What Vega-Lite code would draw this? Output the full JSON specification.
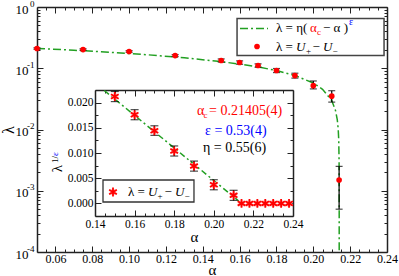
{
  "$schema": "https://vega.github.io/schema/vega-lite/v6.json",
  "width": 350,
  "height": 245,
  "autosize": "none",
  "padding": {"left": 37, "top": 7, "right": 12, "bottom": 24},
  "background": "white",
  "config": {
    "view": {"stroke": null},
    "font": "Liberation Serif",
    "text": {"font": "Liberation Serif"},
    "axis": {
      "labelFont": "Liberation Serif", "titleFont": "Liberation Serif",
      "labelColor": "black", "titleColor": "black",
      "domainColor": "#222", "tickColor": "#222",
      "domainWidth": 1.5, "tickWidth": 1, "grid": false, "titleFontWeight": "normal",
      "labelOverlap": false, "labelFlush": false, "labelBound": false
    }
  },
  "datasets": {
    "main": [
      {"a": 0.05, "lam": 0.21, "lo": 0.204, "hi": 0.216},
      {"a": 0.075, "lam": 0.202, "lo": 0.196, "hi": 0.208},
      {"a": 0.1, "lam": 0.188, "lo": 0.182, "hi": 0.194},
      {"a": 0.125, "lam": 0.161, "lo": 0.155, "hi": 0.167},
      {"a": 0.15, "lam": 0.134, "lo": 0.126, "hi": 0.142},
      {"a": 0.16, "lam": 0.124, "lo": 0.116, "hi": 0.132},
      {"a": 0.17, "lam": 0.111, "lo": 0.104, "hi": 0.118},
      {"a": 0.18, "lam": 0.092, "lo": 0.085, "hi": 0.099},
      {"a": 0.19, "lam": 0.076, "lo": 0.069, "hi": 0.083},
      {"a": 0.2, "lam": 0.052, "lo": 0.046, "hi": 0.062},
      {"a": 0.21, "lam": 0.035, "lo": 0.028, "hi": 0.043},
      {"a": 0.214, "lam": 0.0015, "lo": 0.0005, "hi": 0.0025}
    ],
    "fit": [
      {"a": 0.05, "lam": 0.211, "s": "fit"},
      {"a": 0.07, "lam": 0.197, "s": "fit"},
      {"a": 0.09, "lam": 0.182, "s": "fit"},
      {"a": 0.11, "lam": 0.166, "s": "fit"},
      {"a": 0.13, "lam": 0.148, "s": "fit"},
      {"a": 0.15, "lam": 0.128, "s": "fit"},
      {"a": 0.16, "lam": 0.117, "s": "fit"},
      {"a": 0.17, "lam": 0.105, "s": "fit"},
      {"a": 0.18, "lam": 0.0917, "s": "fit"},
      {"a": 0.19, "lam": 0.0763, "s": "fit"},
      {"a": 0.2, "lam": 0.0574, "s": "fit"},
      {"a": 0.205, "lam": 0.0454, "s": "fit"},
      {"a": 0.21, "lam": 0.0297, "s": "fit"},
      {"a": 0.212, "lam": 0.0207, "s": "fit"},
      {"a": 0.213, "lam": 0.0145, "s": "fit"},
      {"a": 0.2135, "lam": 0.0103, "s": "fit"},
      {"a": 0.2138, "lam": 0.0068, "s": "fit"},
      {"a": 0.214, "lam": 0.0029, "s": "fit"},
      {"a": 0.21404, "lam": 0.00123, "s": "fit"},
      {"a": 0.214049, "lam": 0.00036, "s": "fit"},
      {"a": 0.21405, "lam": 0.0001, "s": "fit"},
      {"a": 0.1602, "lam": 0.4457, "s": "leg"},
      {"a": 0.1754, "lam": 0.4457, "s": "leg"}
    ],
    "mbox": [{"a": 0.1586, "a2": 0.2384, "lam": 0.1614, "lam2": 0.649}],
    "mdot": [{"a": 0.16944, "lam": 0.2265}],
    "mtext": [
      {"a": 0.17975, "lam": 0.4457, "t": "λ = η(", "k": "n", "c": "k"},
      {"a": 0.19821, "lam": 0.4457, "t": "α", "k": "n", "c": "r"},
      {"a": 0.20201, "lam": 0.4457, "t": "c", "k": "sub", "c": "r"},
      {"a": 0.20527, "lam": 0.4457, "t": "− α )", "k": "n", "c": "k"},
      {"a": 0.21938, "lam": 0.4457, "t": "ε", "k": "sup", "c": "b"},
      {"a": 0.17975, "lam": 0.2265, "t": "λ =", "k": "n", "c": "k"},
      {"a": 0.19061, "lam": 0.2265, "t": "U", "k": "i", "c": "k"},
      {"a": 0.19604, "lam": 0.2265, "t": "+", "k": "sub", "c": "k"},
      {"a": 0.19957, "lam": 0.2265, "t": "−", "k": "n", "c": "k"},
      {"a": 0.20527, "lam": 0.2265, "t": "U", "k": "i", "c": "k"},
      {"a": 0.21042, "lam": 0.2265, "t": "−", "k": "sub", "c": "k"}
    ],
    "inset": [
      {"a": 0.15, "v": 0.0212, "lo": 0.0202, "hi": 0.0222},
      {"a": 0.16, "v": 0.0176, "lo": 0.0166, "hi": 0.0186},
      {"a": 0.17, "v": 0.0144, "lo": 0.0135, "hi": 0.0154},
      {"a": 0.18, "v": 0.0104, "lo": 0.0094, "hi": 0.0114},
      {"a": 0.19, "v": 0.0074, "lo": 0.0064, "hi": 0.0084},
      {"a": 0.2, "v": 0.0037, "lo": 0.0027, "hi": 0.0047},
      {"a": 0.21, "v": 0.0016, "lo": 0.0006, "hi": 0.0026},
      {"a": 0.214, "v": 0.0},
      {"a": 0.218, "v": 0.0},
      {"a": 0.222, "v": 0.0},
      {"a": 0.226, "v": 0.0},
      {"a": 0.23, "v": 0.0},
      {"a": 0.234, "v": 0.0},
      {"a": 0.238, "v": 0.0}
    ],
    "ifit": [{"a": 0.1447, "v": 0.0224}, {"a": 0.21405, "v": 0.0}],
    "ibox": [{"a": 0.14404, "a2": 0.18999, "v": 0.00028, "v2": 0.00464}],
    "istar": [{"a": 0.14909, "v": 0.00226}],
    "itext": [
      {"a": 0.19152, "v": 0.01833, "t": "α", "k": "n", "c": "r"},
      {"a": 0.1948, "v": 0.01833, "t": "c", "k": "sub", "c": "r"},
      {"a": 0.19758, "v": 0.01833, "t": "= 0.21405(4)", "k": "n", "c": "r"},
      {"a": 0.19556, "v": 0.01437, "t": "ε = 0.53(4)", "k": "n", "c": "b"},
      {"a": 0.19455, "v": 0.01099, "t": "η = 0.55(6)", "k": "n", "c": "k"},
      {"a": 0.15667, "v": 0.00226, "t": "λ =", "k": "l", "c": "k"},
      {"a": 0.16677, "v": 0.00226, "t": "U", "k": "i", "c": "k"},
      {"a": 0.17157, "v": 0.00226, "t": "+", "k": "sub", "c": "k"},
      {"a": 0.1751, "v": 0.00226, "t": "−", "k": "l", "c": "k"},
      {"a": 0.1804, "v": 0.00226, "t": "U", "k": "i", "c": "k"},
      {"a": 0.18521, "v": 0.00226, "t": "−", "k": "sub", "c": "k"},
      {"a": 0.12081, "v": 0.00692, "t": "λ", "k": "rot", "c": "k"},
      {"a": 0.11955, "v": 0.00871, "t": "1/", "k": "rotsup", "c": "k"},
      {"a": 0.11955, "v": 0.0098, "t": "ε", "k": "rotsup", "c": "b"}
    ]
  },
  "layer": [
    {
      "layer": [
        {
          "data": {"name": "fit"},
          "mark": {"type": "line", "color": "#22a022", "strokeWidth": 1.5, "strokeDash": [8, 3, 2, 3]},
          "encoding": {
            "x": {"field": "a", "type": "quantitative", "scale": {"domain": [0.05, 0.24], "nice": false},
              "axis": {"orient": "bottom", "title": "α", "titleFontSize": 15, "titlePadding": -2, "ticks": false, "domain": false,
                "values": [0.06, 0.1, 0.14, 0.18, 0.22], "format": ".2f",
                "labelOverlap": false, "labelFlush": false, "labelBound": false,
                "labelFontSize": 12, "labelPadding": 1}},
            "y": {"field": "lam", "type": "quantitative", "scale": {"type": "log", "domain": [0.0001, 1]},
              "axis": {"orient": "left", "title": "λ", "titleFontSize": 16, "titlePadding": -1, "ticks": false, "domain": false,
                "values": [0.0001, 0.001, 0.01, 0.1, 1], "labelExpr": "'10'",
                "labelOverlap": false, "labelFlush": false, "labelBound": false,
                "labelFontSize": 13, "labelPadding": 9, "labelOffset": 2}},
            "detail": {"field": "s"}
          }
        },
        {
          "data": {"name": "mbox"},
          "mark": {"type": "rect", "filled": false, "stroke": "#444", "strokeWidth": 1.5},
          "encoding": {
            "x": {"field": "a", "type": "quantitative"}, "x2": {"field": "a2"},
            "y": {"field": "lam", "type": "quantitative"}, "y2": {"field": "lam2"}
          }
        },
        {
          "data": {"name": "main"},
          "mark": {"type": "rule", "color": "black", "strokeWidth": 1.2},
          "encoding": {"x": {"field": "a", "type": "quantitative"}, "y": {"field": "lo", "type": "quantitative"}, "y2": {"field": "hi"}}
        },
        {
          "data": {"name": "main"},
          "mark": {"type": "tick", "orient": "horizontal", "color": "black", "size": 7, "thickness": 1.2},
          "encoding": {"x": {"field": "a", "type": "quantitative"}, "y": {"field": "lo", "type": "quantitative"}}
        },
        {
          "data": {"name": "main"},
          "mark": {"type": "tick", "orient": "horizontal", "color": "black", "size": 7, "thickness": 1.2},
          "encoding": {"x": {"field": "a", "type": "quantitative"}, "y": {"field": "hi", "type": "quantitative"}}
        },
        {
          "data": {"name": "main"},
          "mark": {"type": "circle", "color": "#ff0000", "size": 32, "opacity": 1},
          "encoding": {"x": {"field": "a", "type": "quantitative"}, "y": {"field": "lam", "type": "quantitative"}}
        },
        {
          "data": {"name": "mdot"},
          "mark": {"type": "circle", "color": "#ff0000", "size": 32, "opacity": 1},
          "encoding": {"x": {"field": "a", "type": "quantitative"}, "y": {"field": "lam", "type": "quantitative"}}
        },
        {
          "data": {"name": "mtext"},
          "transform": [{"filter": "datum.k == 'n'"}],
          "mark": {"type": "text", "align": "left", "baseline": "middle", "fontSize": 13},
          "encoding": {"x": {"field": "a", "type": "quantitative"}, "y": {"field": "lam", "type": "quantitative"}, "text": {"field": "t"},
            "color": {"field": "c", "type": "nominal", "scale": {"domain": ["k", "r", "b"], "range": ["black", "#ff0000", "#0000ff"]}, "legend": null}}
        },
        {
          "data": {"name": "mtext"},
          "transform": [{"filter": "datum.k == 'i'"}],
          "mark": {"type": "text", "align": "left", "baseline": "middle", "fontSize": 13, "fontStyle": "italic"},
          "encoding": {"x": {"field": "a", "type": "quantitative"}, "y": {"field": "lam", "type": "quantitative"}, "text": {"field": "t"},
            "color": {"field": "c", "type": "nominal", "scale": {"domain": ["k", "r", "b"], "range": ["black", "#ff0000", "#0000ff"]}, "legend": null}}
        },
        {
          "data": {"name": "mtext"},
          "transform": [{"filter": "datum.k == 'sub'"}],
          "mark": {"type": "text", "align": "left", "baseline": "middle", "fontSize": 9, "dy": 4},
          "encoding": {"x": {"field": "a", "type": "quantitative"}, "y": {"field": "lam", "type": "quantitative"}, "text": {"field": "t"},
            "color": {"field": "c", "type": "nominal", "scale": {"domain": ["k", "r", "b"], "range": ["black", "#ff0000", "#0000ff"]}, "legend": null}}
        },
        {
          "data": {"name": "mtext"},
          "transform": [{"filter": "datum.k == 'sup'"}],
          "mark": {"type": "text", "align": "left", "baseline": "middle", "fontSize": 10, "dy": -6},
          "encoding": {"x": {"field": "a", "type": "quantitative"}, "y": {"field": "lam", "type": "quantitative"}, "text": {"field": "t"},
            "color": {"field": "c", "type": "nominal", "scale": {"domain": ["k", "r", "b"], "range": ["black", "#ff0000", "#0000ff"]}, "legend": null}}
        }
      ]
    },
    {
      "data": {"name": "main"},
      "mark": {"type": "point", "opacity": 0},
      "encoding": {
        "x": {"field": "a", "type": "quantitative", "scale": {"domain": [0.05, 0.24], "nice": false},
          "axis": {"orient": "bottom", "title": null, "labels": false, "tickSize": -6,
            "values": [0.06, 0.08, 0.1, 0.12, 0.14, 0.16, 0.18, 0.2, 0.22, 0.24]}},
        "y": {"field": "lam", "type": "quantitative", "scale": {"type": "log", "domain": [0.0001, 1]},
          "axis": {"orient": "left", "title": null, "labels": false, "tickSize": -6,
            "values": [0.0001, 0.001, 0.01, 0.1, 1]}}
      }
    },
    {
      "data": {"name": "main"},
      "mark": {"type": "point", "opacity": 0},
      "encoding": {
        "x": {"field": "a", "type": "quantitative", "scale": {"domain": [0.05, 0.24], "nice": false},
          "axis": {"orient": "bottom", "title": null, "labels": false, "tickSize": -3, "domain": false,
            "values": [0.055,0.065,0.07,0.075,0.085,0.09,0.095,0.105,0.11,0.115,0.125,0.13,0.135,0.145,0.15,0.155,0.165,0.17,0.175,0.185,0.19,0.195,0.205,0.21,0.215,0.225,0.23,0.235]}},
        "y": {"field": "lam", "type": "quantitative", "scale": {"type": "log", "domain": [0.0001, 1]},
          "axis": {"orient": "left", "title": null, "labels": false, "tickSize": -3, "domain": false,
            "values": [0.0002,0.0003,0.0004,0.0005,0.0006,0.0007,0.0008,0.0009,0.002,0.003,0.004,0.005,0.006,0.007,0.008,0.009,0.02,0.03,0.04,0.05,0.06,0.07,0.08,0.09,0.2,0.3,0.4,0.5,0.6,0.7,0.8,0.9]}}
      }
    },
    {
      "data": {"name": "main"},
      "mark": {"type": "point", "opacity": 0},
      "encoding": {
        "x": {"field": "a", "type": "quantitative", "scale": {"domain": [0.05, 0.24], "nice": false},
          "axis": {"orient": "top", "title": null, "labels": false, "tickSize": -6,
            "values": [0.06, 0.08, 0.1, 0.12, 0.14, 0.16, 0.18, 0.2, 0.22, 0.24]}},
        "y": {"field": "lam", "type": "quantitative", "scale": {"type": "log", "domain": [0.0001, 1]},
          "axis": {"orient": "right", "title": null, "labels": false, "tickSize": -6,
            "values": [0.0001, 0.001, 0.01, 0.1, 1]}}
      }
    },
    {
      "data": {"name": "main"},
      "mark": {"type": "point", "opacity": 0},
      "encoding": {
        "x": {"field": "a", "type": "quantitative", "scale": {"domain": [0.05, 0.24], "nice": false},
          "axis": {"orient": "top", "title": null, "labels": false, "tickSize": -3, "domain": false,
            "values": [0.055,0.065,0.07,0.075,0.085,0.09,0.095,0.105,0.11,0.115,0.125,0.13,0.135,0.145,0.15,0.155,0.165,0.17,0.175,0.185,0.19,0.195,0.205,0.21,0.215,0.225,0.23,0.235]}},
        "y": {"field": "lam", "type": "quantitative", "scale": {"type": "log", "domain": [0.0001, 1]},
          "axis": {"orient": "right", "title": null, "labels": false, "tickSize": -3, "domain": false,
            "values": [0.0002,0.0003,0.0004,0.0005,0.0006,0.0007,0.0008,0.0009,0.002,0.003,0.004,0.005,0.006,0.007,0.008,0.009,0.02,0.03,0.04,0.05,0.06,0.07,0.08,0.09,0.2,0.3,0.4,0.5,0.6,0.7,0.8,0.9]}}
      }
    },
    {
      "data": {"name": "main"},
      "mark": {"type": "point", "opacity": 0},
      "encoding": {
        "x": {"field": "a", "type": "quantitative", "scale": {"domain": [0.05, 0.24], "nice": false},
          "axis": {"orient": "bottom", "title": null, "ticks": false, "domain": false,
            "values": [0.08, 0.12, 0.16, 0.2, 0.24], "format": ".2f",
            "labelOverlap": false, "labelFlush": false, "labelBound": false,
            "labelFontSize": 12, "labelPadding": 1}},
        "y": {"field": "lam", "type": "quantitative", "scale": {"type": "log", "domain": [0.0001, 1]},
          "axis": {"orient": "left", "title": null, "ticks": false, "domain": false,
            "values": [0.0001, 0.001, 0.01, 0.1, 1],
            "labelExpr": "['0','-1','-2','-3','-4'][-round(log(datum.value)/LN10)]",
            "labelOverlap": false, "labelFlush": false, "labelBound": false,
            "labelFontSize": 9, "labelPadding": 3, "labelOffset": -4}}
      }
    },
    {
      "layer": [
        {
          "data": {"name": "ifit"},
          "mark": {"type": "line", "color": "#22a022", "strokeWidth": 1.5, "strokeDash": [6, 3, 2, 3]},
          "encoding": {
            "x": {"field": "a", "type": "quantitative", "scale": {"domain": [0.14, 0.24], "range": [58, 256], "nice": false},
              "axis": {"orient": "bottom", "offset": -36, "title": "α", "titleFontSize": 15, "titlePadding": 0, "ticks": false, "domain": false,
                "values": [0.14, 0.16, 0.18, 0.2, 0.22, 0.24], "format": ".2f",
                "labelOverlap": false, "labelFlush": false, "labelBound": false,
                "labelFontSize": 11.5, "labelPadding": 2}},
            "y": {"field": "v", "type": "quantitative", "scale": {"domain": [-0.0025, 0.0225], "range": [209, 83], "nice": false},
              "axis": {"orient": "left", "offset": -58, "title": null, "ticks": false, "domain": false,
                "values": [0, 0.005, 0.01, 0.015, 0.02], "format": ".3f",
                "labelOverlap": false, "labelFlush": false, "labelBound": false,
                "labelFontSize": 11.5, "labelPadding": 2}}
          }
        },
        {
          "data": {"name": "ibox"},
          "mark": {"type": "rect", "filled": false, "stroke": "#333", "strokeWidth": 1.3},
          "encoding": {
            "x": {"field": "a", "type": "quantitative"}, "x2": {"field": "a2"},
            "y": {"field": "v", "type": "quantitative"}, "y2": {"field": "v2"}
          }
        },
        {
          "data": {"name": "inset"},
          "transform": [{"filter": "datum.lo != null"}],
          "mark": {"type": "rule", "color": "black", "strokeWidth": 1.2},
          "encoding": {"x": {"field": "a", "type": "quantitative"}, "y": {"field": "lo", "type": "quantitative"}, "y2": {"field": "hi"}}
        },
        {
          "data": {"name": "inset"},
          "transform": [{"filter": "datum.lo != null"}],
          "mark": {"type": "tick", "orient": "horizontal", "color": "black", "size": 8, "thickness": 1.2},
          "encoding": {"x": {"field": "a", "type": "quantitative"}, "y": {"field": "lo", "type": "quantitative"}}
        },
        {
          "data": {"name": "inset"},
          "transform": [{"filter": "datum.lo != null"}],
          "mark": {"type": "tick", "orient": "horizontal", "color": "black", "size": 8, "thickness": 1.2},
          "encoding": {"x": {"field": "a", "type": "quantitative"}, "y": {"field": "hi", "type": "quantitative"}}
        },
        {
          "data": {"name": "inset"},
          "mark": {"type": "circle", "color": "#ffb4b4", "size": 45, "opacity": 0.8},
          "encoding": {"x": {"field": "a", "type": "quantitative"}, "y": {"field": "v", "type": "quantitative"}}
        },
        {
          "data": {"name": "inset"},
          "mark": {"type": "point", "shape": "M0,-1L0,1M-0.866,-0.5L0.866,0.5M-0.866,0.5L0.866,-0.5", "filled": false, "color": "#ff0000", "strokeWidth": 1.8, "size": 80, "opacity": 1},
          "encoding": {"x": {"field": "a", "type": "quantitative"}, "y": {"field": "v", "type": "quantitative"}}
        },
        {
          "data": {"name": "istar"},
          "mark": {"type": "circle", "color": "#ffb4b4", "size": 45, "opacity": 0.8},
          "encoding": {"x": {"field": "a", "type": "quantitative"}, "y": {"field": "v", "type": "quantitative"}}
        },
        {
          "data": {"name": "istar"},
          "mark": {"type": "point", "shape": "M0,-1L0,1M-0.866,-0.5L0.866,0.5M-0.866,0.5L0.866,-0.5", "filled": false, "color": "#ff0000", "strokeWidth": 1.8, "size": 80, "opacity": 1},
          "encoding": {"x": {"field": "a", "type": "quantitative"}, "y": {"field": "v", "type": "quantitative"}}
        },
        {
          "data": {"name": "itext"},
          "transform": [{"filter": "datum.k == 'n'"}],
          "mark": {"type": "text", "align": "left", "baseline": "middle", "fontSize": 14},
          "encoding": {"x": {"field": "a", "type": "quantitative"}, "y": {"field": "v", "type": "quantitative"}, "text": {"field": "t"},
            "color": {"field": "c", "type": "nominal", "scale": {"domain": ["k", "r", "b"], "range": ["black", "#ff0000", "#0000ff"]}, "legend": null}}
        },
        {
          "data": {"name": "itext"},
          "transform": [{"filter": "datum.k == 'l'"}],
          "mark": {"type": "text", "align": "left", "baseline": "middle", "fontSize": 13},
          "encoding": {"x": {"field": "a", "type": "quantitative"}, "y": {"field": "v", "type": "quantitative"}, "text": {"field": "t"},
            "color": {"field": "c", "type": "nominal", "scale": {"domain": ["k", "r", "b"], "range": ["black", "#ff0000", "#0000ff"]}, "legend": null}}
        },
        {
          "data": {"name": "itext"},
          "transform": [{"filter": "datum.k == 'i'"}],
          "mark": {"type": "text", "align": "left", "baseline": "middle", "fontSize": 13, "fontStyle": "italic"},
          "encoding": {"x": {"field": "a", "type": "quantitative"}, "y": {"field": "v", "type": "quantitative"}, "text": {"field": "t"},
            "color": {"field": "c", "type": "nominal", "scale": {"domain": ["k", "r", "b"], "range": ["black", "#ff0000", "#0000ff"]}, "legend": null}}
        },
        {
          "data": {"name": "itext"},
          "transform": [{"filter": "datum.k == 'sub'"}],
          "mark": {"type": "text", "align": "left", "baseline": "middle", "fontSize": 9, "dy": 4},
          "encoding": {"x": {"field": "a", "type": "quantitative"}, "y": {"field": "v", "type": "quantitative"}, "text": {"field": "t"},
            "color": {"field": "c", "type": "nominal", "scale": {"domain": ["k", "r", "b"], "range": ["black", "#ff0000", "#0000ff"]}, "legend": null}}
        },
        {
          "data": {"name": "itext"},
          "transform": [{"filter": "datum.k == 'rot'"}],
          "mark": {"type": "text", "align": "center", "baseline": "middle", "fontSize": 15, "angle": 270},
          "encoding": {"x": {"field": "a", "type": "quantitative"}, "y": {"field": "v", "type": "quantitative"}, "text": {"field": "t"},
            "color": {"field": "c", "type": "nominal", "scale": {"domain": ["k", "r", "b"], "range": ["black", "#ff0000", "#0000ff"]}, "legend": null}}
        },
        {
          "data": {"name": "itext"},
          "transform": [{"filter": "datum.k == 'rotsup'"}],
          "mark": {"type": "text", "align": "center", "baseline": "middle", "fontSize": 9, "angle": 270},
          "encoding": {"x": {"field": "a", "type": "quantitative"}, "y": {"field": "v", "type": "quantitative"}, "text": {"field": "t"},
            "color": {"field": "c", "type": "nominal", "scale": {"domain": ["k", "r", "b"], "range": ["black", "#ff0000", "#0000ff"]}, "legend": null}}
        }
      ]
    },
    {
      "data": {"name": "inset"},
      "mark": {"type": "point", "opacity": 0},
      "encoding": {
        "x": {"field": "a", "type": "quantitative", "scale": {"domain": [0.14, 0.24], "range": [58, 256], "nice": false},
          "axis": {"orient": "bottom", "offset": -36, "title": null, "labels": false, "tickSize": -6,
            "values": [0.14, 0.16, 0.18, 0.2, 0.22, 0.24]}},
        "y": {"field": "v", "type": "quantitative", "scale": {"domain": [-0.0025, 0.0225], "range": [209, 83], "nice": false},
          "axis": {"orient": "left", "offset": -58, "title": null, "labels": false, "tickSize": -6,
            "values": [0, 0.005, 0.01, 0.015, 0.02]}}
      }
    },
    {
      "data": {"name": "inset"},
      "mark": {"type": "point", "opacity": 0},
      "encoding": {
        "x": {"field": "a", "type": "quantitative", "scale": {"domain": [0.14, 0.24], "range": [58, 256], "nice": false},
          "axis": {"orient": "bottom", "offset": -36, "title": null, "labels": false, "tickSize": -3, "domain": false,
            "values": [0.145,0.15,0.155,0.165,0.17,0.175,0.185,0.19,0.195,0.205,0.21,0.215,0.225,0.23,0.235]}},
        "y": {"field": "v", "type": "quantitative", "scale": {"domain": [-0.0025, 0.0225], "range": [209, 83], "nice": false},
          "axis": {"orient": "left", "offset": -58, "title": null, "labels": false, "tickSize": -3, "domain": false,
            "values": [0.0025, 0.0075, 0.0125, 0.0175]}}
      }
    },
    {
      "data": {"name": "inset"},
      "mark": {"type": "point", "opacity": 0},
      "encoding": {
        "x": {"field": "a", "type": "quantitative", "scale": {"domain": [0.14, 0.24], "range": [58, 256], "nice": false},
          "axis": {"orient": "top", "offset": -83, "title": null, "labels": false, "tickSize": -6,
            "values": [0.14, 0.16, 0.18, 0.2, 0.22, 0.24]}},
        "y": {"field": "v", "type": "quantitative", "scale": {"domain": [-0.0025, 0.0225], "range": [209, 83], "nice": false},
          "axis": {"orient": "right", "offset": -94, "title": null, "labels": false, "tickSize": -6,
            "values": [0, 0.005, 0.01, 0.015, 0.02]}}
      }
    },
    {
      "data": {"name": "inset"},
      "mark": {"type": "point", "opacity": 0},
      "encoding": {
        "x": {"field": "a", "type": "quantitative", "scale": {"domain": [0.14, 0.24], "range": [58, 256], "nice": false},
          "axis": {"orient": "top", "offset": -83, "title": null, "labels": false, "tickSize": -3, "domain": false,
            "values": [0.145,0.15,0.155,0.165,0.17,0.175,0.185,0.19,0.195,0.205,0.21,0.215,0.225,0.23,0.235]}},
        "y": {"field": "v", "type": "quantitative", "scale": {"domain": [-0.0025, 0.0225], "range": [209, 83], "nice": false},
          "axis": {"orient": "right", "offset": -94, "title": null, "labels": false, "tickSize": -3, "domain": false,
            "values": [0.0025, 0.0075, 0.0125, 0.0175]}}
      }
    }
  ],
  "resolve": {"scale": {"x": "independent", "y": "independent"}, "axis": {"x": "independent", "y": "independent"}}
}
